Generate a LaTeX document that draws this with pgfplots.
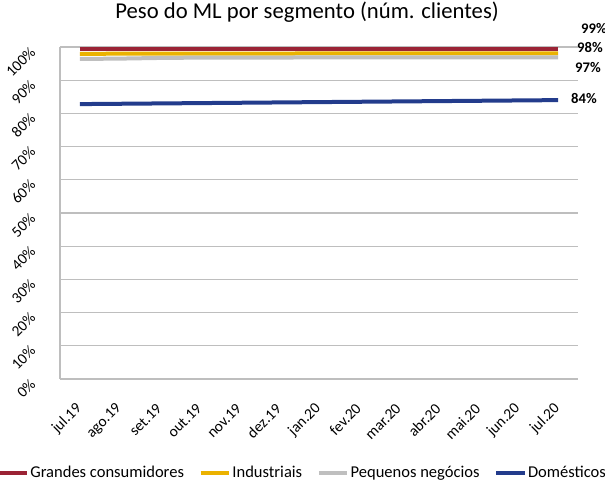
\documentclass[border=0pt]{standalone}
\usepackage{pgfplots}
\pgfplotsset{compat=1.18}
\usepackage{fontspec}
\setmainfont{Carlito}
\definecolor{cRed}{RGB}{155,35,53}
\definecolor{cYel}{RGB}{235,178,0}
\definecolor{cGray}{RGB}{191,191,191}
\definecolor{cBlue}{RGB}{35,60,140}
\definecolor{cGrid}{RGB}{190,190,190}
\begin{document}
\begin{tikzpicture}
\path[use as bounding box] (-45pt,-78.75pt) rectangle (408.75pt,284.25pt);
\begin{axis}[
  scale only axis, width=388.5pt, height=249pt,
  xmin=-0.5, xmax=12.5, ymin=0, ymax=100,
  xtick={0,...,12},
  xticklabels={jul.19,ago.19,set.19,out.19,nov.19,dez.19,jan.20,fev.20,mar.20,abr.20,mai.20,jun.20,jul.20},
  ytick={0,10,...,100},
  yticklabel={\pgfmathprintnumber{\tick}\%},
  /pgf/number format/assume math mode=true,
  ymajorgrids, grid style={cGrid, line width=0.8pt},
  axis x line*=bottom, axis y line*=left,
  axis line style={cGrid, line width=0.8pt, -},
  major tick length=0pt,
  tick label style={font=\fontsize{11.5}{13}\selectfont},
  xticklabel style={xshift=2pt, yshift=-18pt, rotate=45, anchor=east},
  yticklabel style={xshift=-18pt, yshift=0.5pt, rotate=45, anchor=east},
  title={Peso do ML por segmento (núm. clientes)},
  title style={font=\fontsize{17}{20}\selectfont, at={(0.477,1.081)}, anchor=center},
  clip=false,
  legend columns=4,
  legend style={draw=none, fill=none, at={(0.467,-0.283)}, anchor=center,
    font=\fontsize{12.4}{14}\selectfont, nodes={inner xsep=1pt},
    /tikz/every even column/.append style={column sep=10pt},
    /tikz/every odd column/.append style={column sep=0pt}},
  legend image code/.code={\draw[#1, line width=3pt] (-0.25cm,0cm) -- (0.5cm,0cm);},
  every axis plot/.append style={line width=3pt, no marks},
]
\addplot[cRed] coordinates {(0,99.5)(1,99.5)(2,99.5)(3,99.5)(4,99.5)(5,99.5)(6,99.5)(7,99.5)(8,99.5)(9,99.5)(10,99.5)(11,99.5)(12,99.5)};
\addlegendentry{Grandes consumidores}
\addplot[cYel] coordinates {(0,97.9)(1,98.0)(2,98.0)(3,98.0)(4,98.0)(5,98.0)(6,98.1)(7,98.1)(8,98.1)(9,98.1)(10,98.1)(11,98.1)(12,98.1)};
\addlegendentry{Industriais}
\addplot[cGray] coordinates {(0,96.4)(1,96.5)(2,96.7)(3,96.8)(4,96.8)(5,96.8)(6,96.9)(7,96.9)(8,96.9)(9,96.9)(10,96.9)(11,96.9)(12,96.9)};
\addlegendentry{Pequenos negócios}
\addplot[cBlue] coordinates {(0,82.8)(1,82.9)(2,83.0)(3,83.1)(4,83.2)(5,83.3)(6,83.4)(7,83.5)(8,83.6)(9,83.7)(10,83.8)(11,83.9)(12,84.0)};
\addlegendentry{Domésticos}
\node[font=\fontsize{11}{12}\selectfont\bfseries] at (axis cs:12.9,105.7) {99\%};
\node[font=\fontsize{11}{12}\selectfont\bfseries] at (axis cs:12.8,99.7) {98\%};
\node[font=\fontsize{11}{12}\selectfont\bfseries] at (axis cs:12.75,93.7) {97\%};
\node[font=\fontsize{11}{12}\selectfont\bfseries] at (axis cs:12.65,84.6) {84\%};
\end{axis}
\end{tikzpicture}
\end{document}
